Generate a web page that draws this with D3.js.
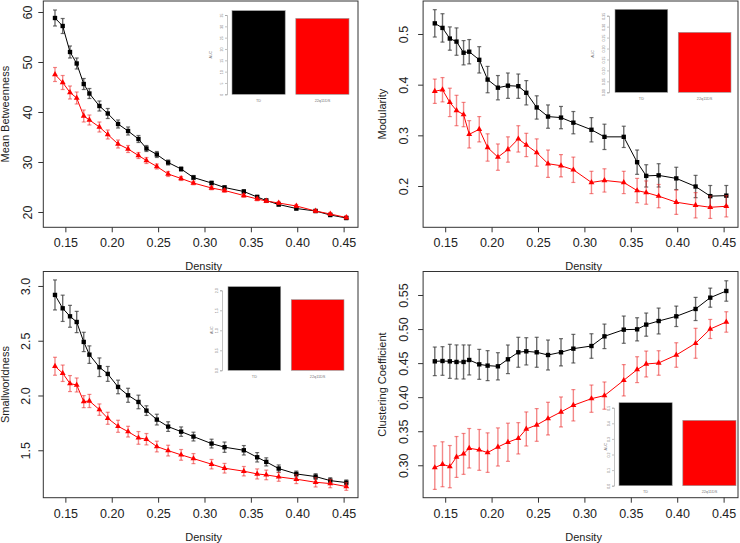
<!DOCTYPE html>
<html><head><meta charset="utf-8">
<script src="https://cdn.jsdelivr.net/npm/d3@7"></script>
<style>
html,body{margin:0;padding:0;background:#fff;}
svg{display:block;font-family:"Liberation Sans",Arial,Helvetica,sans-serif;}
</style></head>
<body>
<svg id="chart" width="740" height="543"></svg>
<script>
// ---------- DATA ----------
const density = [0.1388,0.1471,0.155,0.1622,0.1698,0.1759,0.1867,0.1957,0.2068,0.2176,0.2288,0.2374,0.2486,0.2608,0.2748,0.2881,0.3076,0.3216,0.3424,0.3568,0.3666,0.380,0.399,0.4198,0.4356,0.4529];
const xTicks = [0.15,0.20,0.25,0.30,0.35,0.40,0.45];
const groups = ["TD","22q11DS"];

// Mean Betweenness
const betwTD    = [58.8,57.2,52.0,49.7,45.6,43.7,41.2,39.7,37.6,36.2,34.6,32.7,31.5,29.9,28.6,26.9,25.8,24.9,24.1,23.0,22.3,21.5,20.7,20.2,19.4,18.8];
const betwTDse  = [1.6,1.5,1.2,1.1,1.1,1.0,1.0,1.0,0.8,0.8,0.7,0.6,0.6,0.5,0.4,0.4,0.35,0.35,0.35,0.35,0.3,0.3,0.3,0.3,0.3,0.3];
const betw22q   = [47.5,45.9,43.9,42.8,39.2,38.4,37.0,35.5,33.6,32.6,31.3,30.3,29.1,27.6,26.7,25.8,24.8,24.3,23.3,22.6,22.2,21.8,21.2,20.2,19.6,18.9];
const betw22qse = [1.4,1.4,1.3,1.2,1.2,1.0,1.0,0.9,0.8,0.7,0.6,0.6,0.5,0.5,0.4,0.35,0.35,0.35,0.35,0.35,0.3,0.3,0.3,0.3,0.3,0.3];
const betwTicks = [20,30,40,50,60];
const betwAUC = [36.9,33.5];
const betwAUCTicks = [0,5,10,15,20,25,30,35];

// Modularity
const modTD    = [0.521,0.512,0.491,0.485,0.463,0.465,0.449,0.410,0.394,0.398,0.397,0.384,0.355,0.337,0.335,0.325,0.311,0.297,0.297,0.247,0.220,0.221,0.215,0.199,0.180,0.181];
const modTDse  = [0.027,0.028,0.023,0.027,0.024,0.024,0.026,0.026,0.024,0.025,0.024,0.024,0.023,0.023,0.022,0.022,0.024,0.025,0.021,0.024,0.022,0.023,0.022,0.022,0.021,0.020];
const mod22q   = [0.387,0.390,0.365,0.349,0.341,0.302,0.312,0.276,0.257,0.272,0.293,0.281,0.266,0.244,0.240,0.232,0.207,0.211,0.207,0.191,0.187,0.180,0.168,0.162,0.158,0.160];
const mod22qse = [0.024,0.024,0.028,0.030,0.024,0.027,0.025,0.027,0.026,0.025,0.026,0.023,0.027,0.027,0.022,0.025,0.022,0.023,0.022,0.024,0.023,0.023,0.024,0.025,0.022,0.021];
const modTicks = [0.2,0.3,0.4,0.5];
const modAUC = [0.379,0.274];
const modAUCTicks = [0,0.05,0.10,0.15,0.20,0.25,0.30,0.35];

// Smallworldness
const swTD    = [2.918,2.796,2.723,2.671,2.489,2.373,2.258,2.197,2.078,2.002,1.941,1.862,1.780,1.716,1.670,1.625,1.561,1.528,1.500,1.436,1.394,1.333,1.284,1.260,1.223,1.205];
const swTDse  = [0.137,0.12,0.10,0.097,0.088,0.08,0.085,0.068,0.062,0.064,0.062,0.044,0.049,0.044,0.043,0.04,0.04,0.047,0.043,0.043,0.037,0.033,0.026,0.026,0.026,0.024];
const sw22q   = [2.267,2.203,2.109,2.096,1.944,1.950,1.871,1.792,1.719,1.670,1.613,1.601,1.534,1.497,1.458,1.424,1.373,1.336,1.309,1.284,1.275,1.257,1.236,1.208,1.196,1.169];
const sw22qse = [0.082,0.075,0.073,0.064,0.055,0.06,0.052,0.055,0.055,0.049,0.058,0.052,0.049,0.049,0.049,0.046,0.043,0.044,0.043,0.046,0.044,0.04,0.04,0.043,0.038,0.035];
const swTicks = [1.5,2.0,2.5,3.0];
const swAUC = [2.09,1.765];
const swAUCTicks = [0,0.5,1.0,1.5,2.0];

// Clustering Coefficient
const ccTD    = [0.4526,0.4531,0.4526,0.4517,0.4517,0.4546,0.4482,0.4463,0.4453,0.4556,0.4659,0.4673,0.4659,0.4619,0.4659,0.4712,0.4751,0.4893,0.4991,0.4996,0.5065,0.5118,0.5187,0.5295,0.5461,0.5559];
const ccTDse  = [0.021,0.021,0.025,0.025,0.025,0.022,0.022,0.022,0.020,0.021,0.022,0.020,0.022,0.022,0.020,0.021,0.018,0.018,0.020,0.017,0.017,0.019,0.015,0.017,0.014,0.015];
const cc22q   = [0.2966,0.3015,0.2980,0.3122,0.3167,0.3250,0.3226,0.3186,0.3269,0.3338,0.3396,0.3533,0.3592,0.3685,0.3783,0.3881,0.3978,0.4023,0.4248,0.4404,0.4487,0.4502,0.4619,0.4791,0.5001,0.5104];
const cc22qse = [0.032,0.033,0.031,0.030,0.030,0.029,0.030,0.029,0.028,0.028,0.023,0.025,0.024,0.024,0.022,0.023,0.020,0.020,0.023,0.019,0.019,0.018,0.018,0.022,0.014,0.015];
const ccTicks = [0.30,0.35,0.40,0.45,0.50,0.55];
const ccAUC = [0.532,0.419];
const ccAUCTicks = [0,0.1,0.2,0.3,0.4,0.5];

// ---------- DRAW ----------
const svg = d3.select("#chart");
const FONT_TICK = 12.5, FONT_LAB = 11;

function drawPanel(p){
  const g = svg.append("g");
  const x = d3.scaleLinear().domain(p.xDom).range([p.x0, p.x1]);
  const y = d3.scaleLinear().domain(p.yDom).range([p.y1, p.y0]);

  g.append("rect").attr("x",p.x0).attr("y",p.y0).attr("width",p.x1-p.x0).attr("height",p.y1-p.y0)
    .attr("fill","none").attr("stroke","#333").attr("stroke-width",1);

  const xa = g.append("g").attr("transform",`translate(0,${p.y1})`)
    .call(d3.axisBottom(x).tickValues(xTicks).tickFormat(d3.format(".2f")).tickSize(5).tickPadding(6));
  xa.select(".domain").remove();
  xa.selectAll("line").attr("stroke","#333");
  xa.selectAll("text").attr("font-size",FONT_TICK).attr("fill","#222").style("font-family","inherit");

  const ya = g.append("g").attr("transform",`translate(${p.x0},0)`)
    .call(d3.axisLeft(y).tickValues(p.yTicks).tickFormat(d3.format(p.yFmt)).tickSize(5).tickPadding(0));
  ya.select(".domain").remove();
  ya.selectAll("line").attr("stroke","#333");
  ya.selectAll("text").attr("font-size",FONT_TICK).attr("fill","#222").style("font-family","inherit")
    .attr("text-anchor","middle").attr("dy",0).attr("x",0)
    .attr("transform",`translate(${-p.tickLabOff},0) rotate(-90)`);

  g.append("text").attr("x",(p.x0+p.x1)/2 + 3).attr("y",p.y1+43).attr("text-anchor","middle")
    .attr("font-size",FONT_LAB).attr("fill","#222").text("Density");
  g.append("text").attr("transform",`translate(${p.yLabX},${(p.y0+p.y1)/2}) rotate(-90)`)
    .attr("text-anchor","middle").attr("font-size",FONT_LAB).attr("fill","#222").text(p.yLabel);

  const series = [
    {v:p.td, se:p.tdse, line:"#000", err:"rgba(60,60,60,0.75)", shape:"square"},
    {v:p.q, se:p.qse, line:"#ff0000", err:"rgba(235,40,40,0.55)", shape:"triangle"}
  ];
  series.forEach(s=>{
    const pts = density.map((d,i)=>({d, v:s.v[i], e:s.se[i]}));
    const eg = g.append("g");
    pts.forEach(pt=>{
      const cx = x(pt.d), yt = y(pt.v+pt.e), yb = y(pt.v-pt.e);
      eg.append("line").attr("x1",cx).attr("x2",cx).attr("y1",yt).attr("y2",yb).attr("stroke",s.err).attr("stroke-width",1.4);
      eg.append("line").attr("x1",cx-2).attr("x2",cx+2).attr("y1",yt).attr("y2",yt).attr("stroke",s.err).attr("stroke-width",1.2);
      eg.append("line").attr("x1",cx-2).attr("x2",cx+2).attr("y1",yb).attr("y2",yb).attr("stroke",s.err).attr("stroke-width",1.2);
    });
    g.append("path").datum(pts).attr("fill","none").attr("stroke",s.line).attr("stroke-width",1)
      .attr("d",d3.line().x(d=>x(d.d)).y(d=>y(d.v)));
    const sym = s.shape==="square" ? d3.symbol().type(d3.symbolSquare).size(19) : d3.symbol().type(d3.symbolTriangle).size(15);
    g.selectAll(null).data(pts).enter().append("path")
      .attr("d",sym).attr("transform",d=>`translate(${x(d.d)},${y(d.v)})`).attr("fill",s.line);
  });

  const ins = p.inset;
  const iy = d3.scaleLinear().domain([0, ins.ticks[ins.ticks.length-1]]).range([ins.yb, ins.yt]);
  const ix = d3.scaleBand().domain(groups).range([ins.bx0, ins.bx1]).paddingInner(0.1667).paddingOuter(0);
  const ig = g.append("g");
  const colors = ["#000000","#ff0000"];
  ig.selectAll(null).data(p.auc).enter().append("rect")
    .attr("x",(d,i)=>ix(groups[i])).attr("width",ix.bandwidth())
    .attr("y",d=>iy(d)).attr("height",d=>iy(0)-iy(d))
    .attr("fill",(d,i)=>colors[i]).attr("stroke","#999").attr("stroke-width",0.6);
  const ia = ig.append("g").attr("transform",`translate(${ins.ax},0)`)
    .call(d3.axisLeft(iy).tickValues(ins.ticks).tickFormat(d3.format(ins.fmt)).tickSize(2).tickPadding(1));
  ia.select(".domain").attr("stroke","#999").attr("stroke-width",0.6);
  ia.selectAll("line").attr("stroke","#999").attr("stroke-width",0.6);
  ia.selectAll("text").attr("font-size",3.6).attr("fill","#777").style("font-family","inherit")
    .attr("text-anchor","middle").attr("dy",0).attr("x",0)
    .attr("transform",`translate(-4,0) rotate(-90)`);
  ig.append("text").attr("transform",`translate(${ins.aucX},${(ins.yb+ins.yt)/2}) rotate(-90)`)
    .attr("text-anchor","middle").attr("font-size",3.6).attr("fill","#777").text("AUC");
  groups.forEach(gr=>{
    ig.append("text").attr("x",ix(gr)+ix.bandwidth()/2).attr("y",ins.yb+7.5).attr("text-anchor","middle")
      .attr("font-size",3.8).attr("fill","#777").text(gr);
  });
}

const xDom = [0.1262, 0.4655];
drawPanel({x0:43.3,x1:358,y0:1,y1:227.3,xDom,yDom:[16.94,62.2],yTicks:betwTicks,yFmt:"d",tickLabOff:11,yLabX:9,
  yLabel:"Mean Betweenness",td:betwTD,tdse:betwTDse,q:betw22q,qse:betw22qse,auc:betwAUC,
  inset:{ticks:betwAUCTicks,fmt:"d",yb:94.3,yt:15,bx0:232,bx1:349,ax:227,aucX:212}});
drawPanel({x0:423.1,x1:738,y0:1,y1:227.3,xDom,yDom:[0.1185,0.5651],yTicks:modTicks,yFmt:".1f",tickLabOff:15,yLabX:386,
  yLabel:"Modularity",td:modTD,tdse:modTDse,q:mod22q,qse:mod22qse,auc:modAUC,
  inset:{ticks:modAUCTicks,fmt:".2f",yb:92.3,yt:15.7,bx0:615,bx1:731,ax:609,aucX:594}});
drawPanel({x0:43.3,x1:358,y0:271.5,y1:497.7,xDom,yDom:[1.067,3.132],yTicks:swTicks,yFmt:".1f",tickLabOff:13,yLabX:9,
  yLabel:"Smallworldness",td:swTD,tdse:swTDse,q:sw22q,qse:sw22qse,auc:swAUC,
  inset:{ticks:swAUCTicks,fmt:".1f",yb:370.3,yt:290.3,bx0:228,bx1:344,ax:222,aucX:213}});
drawPanel({x0:423.1,x1:738,y0:271.5,y1:497.7,xDom,yDom:[0.2524,0.5845],yTicks:ccTicks,yFmt:".2f",tickLabOff:15,yLabX:386,
  yLabel:"Clustering Coefficient",td:ccTD,tdse:ccTDse,q:cc22q,qse:cc22qse,auc:ccAUC,
  inset:{ticks:ccAUCTicks,fmt:".1f",yb:485.7,yt:407.7,bx0:619,bx1:736,ax:614,aucX:607}});
</script>
</body></html>
